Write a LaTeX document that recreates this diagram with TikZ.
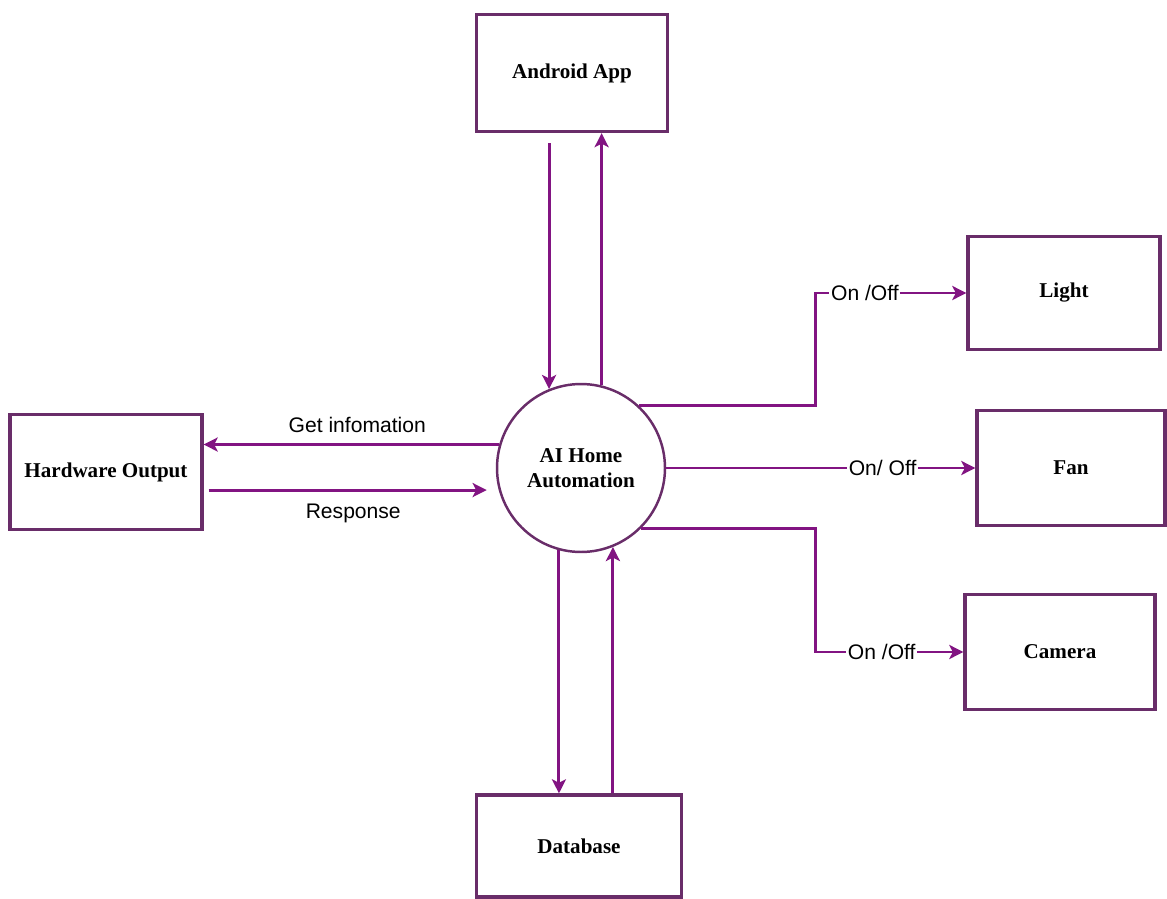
\documentclass[tikz,border=0pt]{standalone}
\usepackage{fontspec}
\setmainfont{Liberation Serif}
\setsansfont{Liberation Sans}
\usetikzlibrary{arrows.meta,calc}
\definecolor{boxline}{RGB}{105,45,105}
\definecolor{flowline}{RGB}{130,20,130}
\begin{document}
\begin{tikzpicture}[
		x=0.02cm, y=-0.02cm,
		align=center,
		every node/.style={font=\bfseries\fontsize{12}{14}\selectfont},
		box/.style={draw=boxline, line width=1.9pt, minimum width=3.84cm, minimum height=2.3cm},
		proc/.style={circle, draw=boxline, line width=1.4pt, minimum size=3.36cm, inner sep=0pt},
		flow/.style={draw=flowline, line width=1.7pt, -{Stealth[length=8pt, width=8pt, inset=2pt]}},
		lbl/.style={font=\sffamily\fontsize{12}{14}\selectfont, fill=white, inner sep=1pt}]
		
		\useasboundingbox[fill=white] (0,0) rectangle (1167,899);
		
		\node[proc] (ai) at (581,468) {AI Home\\Automation};
		\node[box, minimum width=3.82cm, minimum height=2.34cm] (app) at (572,73) {Android App};
		\node[box] (hw) at (106,472) {Hardware Output};
		\node[box, minimum width=4.1cm, minimum height=2.04cm] (db) at (579,846) {Database};
		\node[box, minimum height=2.26cm] (light) at (1064,293) {Light};
		\node[box, minimum width=3.76cm] (fan) at (1071,468) {Fan};
		\node[box, minimum width=3.8cm] (cam) at (1060,652) {Camera};
		
		\coordinate (lbend) at (815,293);
		\coordinate (cbend) at (815,652);
		
		\draw[flow] ($(app.south -| ai.112)+(0,10)$) -- (ai.112);
		\draw[flow] (ai.76) -- (ai.76 |- app.south);
		
		\draw[flow] (ai.164) -- node[lbl, fill=none, above=5pt, pos=0.48]{Get infomation} (ai.164 -| hw.east);
		\draw[flow] ($(hw.east |- ai.195)+(5,0)$) -- node[lbl, fill=none, below=6pt, pos=0.52]{Response} ($(ai.195)+(-12,0)$);
		
		\draw[flow] (ai.255) -- (ai.255 |- db.north);
		\draw[flow] (ai.292 |- db.north) -- (ai.292);
		
		\draw[flow] (ai.47) -| (lbend) -- node[lbl, pos=0.33]{On /Off} (light.west);
		\draw[flow] (ai.east) -- node[lbl, pos=0.7]{On/ Off} (fan.west);
		\draw[flow] (ai.315) -| (cbend) -- node[lbl, pos=0.45]{On /Off} (cam.west);
		
	\end{tikzpicture}
\end{document}
